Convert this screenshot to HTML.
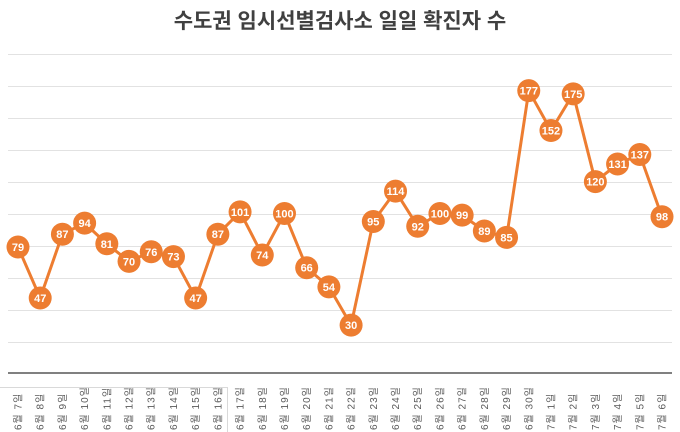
<!DOCTYPE html>
<html><head><meta charset="utf-8"><style>
body{margin:0;background:#fff;}
svg{display:block;font-family:"Liberation Sans","Noto Sans CJK KR",sans-serif;}
</style></head><body>
<svg width="680" height="432" viewBox="0 0 680 432" xmlns="http://www.w3.org/2000/svg">
<text x="340" y="28" text-anchor="middle" font-size="21" font-weight="bold" fill="#404040">수도권 임시선별검사소 일일 확진자 수</text>
<g stroke="#e2e2e2" stroke-width="1">
<line x1="8" x2="672" y1="54.5" y2="54.5"/><line x1="8" x2="672" y1="86.5" y2="86.5"/>
<line x1="8" x2="672" y1="118.5" y2="118.5"/><line x1="8" x2="672" y1="150.5" y2="150.5"/>
<line x1="8" x2="672" y1="182.5" y2="182.5"/><line x1="8" x2="672" y1="214.5" y2="214.5"/>
<line x1="8" x2="672" y1="246.5" y2="246.5"/><line x1="8" x2="672" y1="278.5" y2="278.5"/>
<line x1="8" x2="672" y1="310.5" y2="310.5"/><line x1="8" x2="672" y1="342.5" y2="342.5"/>
</g>
<line x1="8" x2="672" y1="373" y2="373" stroke="#808080" stroke-width="2"/>
<line x1="0" x2="227" y1="387.5" y2="387.5" stroke="#d9d9d9"/>
<line x1="227.5" x2="227.5" y1="387" y2="432" stroke="#d9d9d9"/>
<g id="chart"></g>
</svg>
<script>
var v=[79,47,87,94,81,70,76,73,47,87,101,74,100,66,54,30,95,114,92,100,99,89,85,177,152,175,120,131,137,98];
var ns="http://www.w3.org/2000/svg",g=document.getElementById('chart');
function X(i){return 18+i*644/29;}function Y(d){return 373-d*1.595;}
var p=v.map(function(d,i){return X(i).toFixed(1)+","+Y(d).toFixed(1)}).join(" ");
var pl=document.createElementNS(ns,"polyline");pl.setAttribute("points",p);pl.setAttribute("fill","none");pl.setAttribute("stroke","#ED7D31");pl.setAttribute("stroke-width","3");g.appendChild(pl);
v.forEach(function(d,i){
var c=document.createElementNS(ns,"circle");c.setAttribute("cx",X(i));c.setAttribute("cy",Y(d));c.setAttribute("r","11.5");c.setAttribute("fill","#ED7D31");g.appendChild(c);
var t=document.createElementNS(ns,"text");t.setAttribute("x",X(i));t.setAttribute("y",Y(d)+4);t.setAttribute("text-anchor","middle");t.setAttribute("font-size","11");t.setAttribute("font-weight","bold");t.setAttribute("fill","#fff");t.textContent=d;g.appendChild(t);
var m=i<24?6:7,day=i<24?i+7:i-23;
var l=document.createElementNS(ns,"text");l.setAttribute("transform","translate("+(X(i)+3.5)+",430) rotate(-90)");l.setAttribute("font-size","10");l.setAttribute("fill","#595959");l.setAttribute("letter-spacing","1");l.textContent=m+"월 "+day+"일";g.appendChild(l);
});
</script>
</body></html>
